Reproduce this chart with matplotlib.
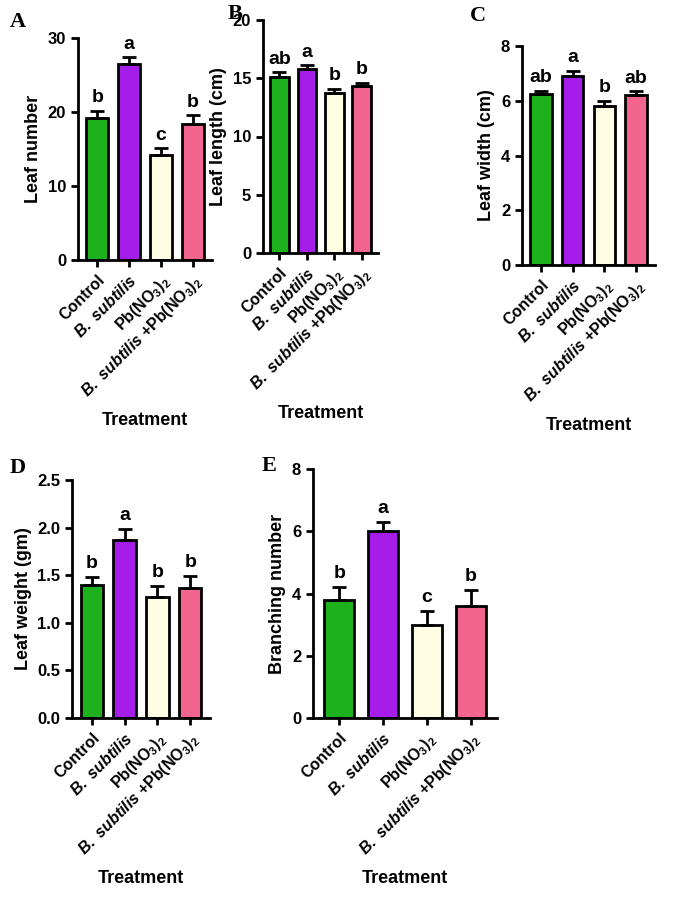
import matplotlib
matplotlib.use("Agg")
import matplotlib.pyplot as plt

plt.rcParams['font.family'] = 'Liberation Sans'
plt.rcParams['font.weight'] = 'bold'
plt.rcParams['mathtext.fontset'] = 'custom'
plt.rcParams['mathtext.rm'] = 'Liberation Sans:bold'
plt.rcParams['mathtext.it'] = 'Liberation Sans:italic:bold'
plt.rcParams['mathtext.bf'] = 'Liberation Sans:bold'
plt.rcParams['mathtext.default'] = 'rm'

treatments = ['Control', r'$\it{B.\ subtilis}$', r'Pb(NO$_3$)$_2$',
              r'$\it{B.\ subtilis}$ +Pb(NO$_3$)$_2$']
colors = ['#1db21d', '#a51de8', '#fffde3', '#f2658f']

leaf_number = [19.2, 26.5, 14.2, 18.4]
leaf_number_err = [1.0, 0.9, 0.9, 1.2]
leaf_number_sig = ['b', 'a', 'c', 'b']

leaf_length = [15.1, 15.8, 13.7, 14.3]
leaf_length_err = [0.4, 0.3, 0.4, 0.3]
leaf_length_sig = ['ab', 'a', 'b', 'b']

leaf_width = [6.25, 6.9, 5.8, 6.2]
leaf_width_err = [0.12, 0.2, 0.2, 0.15]
leaf_width_sig = ['ab', 'a', 'b', 'ab']

leaf_weight = [1.40, 1.87, 1.27, 1.37]
leaf_weight_err = [0.08, 0.12, 0.12, 0.12]
leaf_weight_sig = ['b', 'a', 'b', 'b']

branching = [3.8, 6.0, 3.0, 3.6]
branching_err = [0.4, 0.3, 0.45, 0.5]
branching_sig = ['b', 'a', 'c', 'b']

W, H = 680, 916
fig = plt.figure(figsize=(W / 100, H / 100), dpi=100)


def px_axes(l, t, r, b):
    return fig.add_axes([l / W, 1 - b / H, (r - l) / W, (b - t) / H])


panels = [
    ('A', (78, 38, 212, 260), (10, 22), leaf_number, leaf_number_err, leaf_number_sig, 'Leaf number', 30, 10),
    ('B', (263, 20, 378, 253), (228, 14), leaf_length, leaf_length_err, leaf_length_sig, 'Leaf length (cm)', 20, 5),
    ('C', (522, 46, 655, 265), (470, 16), leaf_width, leaf_width_err, leaf_width_sig, 'Leaf width (cm)', 8, 2),
    ('D', (72, 480, 210, 718), (10, 468), leaf_weight, leaf_weight_err, leaf_weight_sig, 'Leaf weight (gm)', 2.5, 0.5),
    ('E', (313, 469, 497, 718), (262, 466), branching, branching_err, branching_sig, 'Branching number', 8, 2),
]

for letter, box, lpos, vals, errs, sig, ylabel, ymax, step in panels:
    ax = px_axes(*box)
    x = range(len(vals))
    ax.bar(x, vals, width=0.68, color=colors, edgecolor='black', linewidth=2)
    ax.errorbar(list(x), vals, yerr=[[0] * len(errs), errs], fmt='none',
                ecolor='black', elinewidth=2, capsize=5, capthick=2)
    for xi, v, e, s in zip(x, vals, errs, sig):
        ax.text(xi, v + e + ymax * 0.02, s, ha='center', va='bottom',
                fontsize=14, fontweight='bold')
    ax.set_ylim(0, ymax)
    ax.set_xlim(-0.6, 3.6)
    ticks = [i * step for i in range(int(round(ymax / step)) + 1)]
    ax.set_yticks(ticks)
    ax.set_yticklabels([('%g' % t) if step >= 1 else '%.1f' % t for t in ticks])
    ax.set_xticks(list(x))
    ax.set_xticklabels(treatments, rotation=45, ha='right', rotation_mode='anchor', fontsize=11.5)
    ax.tick_params(axis='y', labelsize=12, width=2, length=5)
    ax.tick_params(axis='x', width=2, length=5)
    for sp in ['top', 'right']:
        ax.spines[sp].set_visible(False)
    for sp in ['left', 'bottom']:
        ax.spines[sp].set_linewidth(2)
    ax.set_ylabel(ylabel, fontsize=13, fontweight='bold')
    ax.set_xlabel('Treatment', fontsize=13, fontweight='bold', labelpad=8)
    fig.text(lpos[0] / W, 1 - lpos[1] / H, letter, family='Liberation Serif',
             fontsize=16, fontweight='bold', va='center')

fig.savefig('out.png', dpi=100)
